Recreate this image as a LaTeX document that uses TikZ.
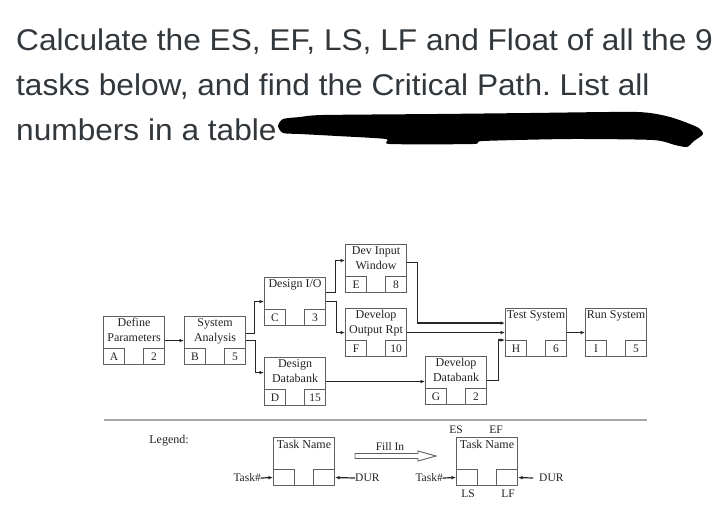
\documentclass[tikz,border=0pt]{standalone}
\usepackage{fontspec}
\setmainfont{Liberation Serif}
\newfontfamily\titlefont[FakeStretch=1.055]{Liberation Sans}
\usetikzlibrary{arrows.meta}
\definecolor{titlecol}{RGB}{50,55,60}
\definecolor{boxcol}{RGB}{95,95,95}
\definecolor{txtcol}{RGB}{35,35,35}
\frenchspacing
\newcommand{\mytask}[6]{%
  \node[taskbox] (#1) at (#2,#3) {};
  \node[tasktext] (#1t) at ([yshift=-2pt]#1.north) {#4};
  \node[cellbox, anchor=south west] (#1l) at (#1.south west) {#5};
  \node[cellbox, anchor=south east] (#1r) at (#1.south east) {#6};
}
\begin{document}
\begin{tikzpicture}[x=1pt,y=-1pt,
  title/.style={font=\titlefont\fontsize{30}{30}\selectfont, text=titlecol, anchor=base west, inner sep=0},
  taskbox/.style={draw=boxcol, line width=1.1pt, minimum width=61pt, minimum height=48pt, anchor=north west, inner sep=0},
  cellbox/.style={draw=boxcol, line width=1.1pt, minimum width=21pt, minimum height=16pt, inner sep=0, font=\fontsize{11.5}{11.5}\selectfont, text=txtcol},
  tasktext/.style={font=\fontsize{12}{15}\selectfont, text=txtcol, align=center, anchor=north, inner sep=0},
  conn/.style={draw=black!85, line width=1.2pt, -{Latex[length=4.5pt,width=3.8pt]}},
  lbl/.style={font=\fontsize{11.5}{11.5}\selectfont, text=txtcol, inner sep=0}
]
\useasboundingbox[fill=white] (0,0) rectangle (725,509);

% title
\node[title] (t1) at (16,50) {Calculate the ES, EF, LS, LF and Float of all the 9};
\node[title] (t2) at (16,95) {tasks below, and find the Critical Path. List all};
\node[title] (t3) at (16,140) {numbers in a table};
\fill[black] plot[smooth cycle, tension=0.4] coordinates {
  (278,126) (283,119) (300,117) (323,115) (437,114) (530,113) (637,112) (670,117)
  (697,127) (703,134) (694,141) (687,147) (675,145) (653,140) (570,139)
  (483,141) (473,144) (390,144) (386,139) (337,136) (300,134) (283,133)};

% tasks
\mytask{A}{103}{316}{Define\\Parameters}{A}{2}
\mytask{B}{184}{316}{System\\Analysis}{B}{5}
\mytask{C}{264}{277}{Design I/O}{C}{3}
\mytask{D}{264}{357}{Design\\Databank}{D}{15}
\mytask{E}{345}{244}{Dev Input\\Window}{E}{8}
\mytask{F}{345}{308}{Develop\\Output Rpt}{F}{10}
\mytask{G}{425}{356}{Develop\\Databank}{G}{2}
\mytask{H}{505}{308}{Test System}{H}{6}
\mytask{I}{585}{308}{Run System}{I}{5}

% connectors
\draw[conn] (A.east) -- (B.west);
\draw[conn] ([yshift=7pt]B.east) -- ++(8,0) |- (C.west);
\draw[conn] (B.east) -- ++(9,0) |- ([yshift=9pt]D.west);
\draw[conn] ([yshift=9pt]C.east) -- ++(9,0) |- ([yshift=8pt]E.west);
\draw[conn] (C.east) -- ++(10,0) |- (F.west);
\draw[conn] ([yshift=6pt]E.east) -- ++(10,0) |- ([yshift=9.5pt]H.west);
\draw[conn] (F.east) -- (F.east -| H.west);
\draw[conn] (D.east) -- (D.east -| G.west);
\draw[conn] (G.east) -- ++(11,0) |- ([yshift=-7.5pt]H.west);
\draw[conn] (H.east) -- (I.west);

% separator
\coordinate (s1) at (104,420);
\coordinate (s2) at (647,420);
\draw[black!35, line width=1.8pt] (s1) -- (s2);

% legend
\node[lbl, font=\fontsize{12}{12}\selectfont] (leg) at (169,441) {Legend:};

\node[taskbox] (L1) at (273,437) {};
\node[tasktext] (L1t) at ([yshift=-3pt]L1.north) {Task Name};
\node[cellbox, anchor=south west] (L1l) at (L1.south west) {};
\node[cellbox, anchor=south east] (L1r) at (L1.south east) {};
\node[lbl, anchor=east] (L1task) at (261,478) {Task\#};
\draw[conn] (L1task.east) -- (L1l.west);
\node[lbl, anchor=west] (L1dur) at (355,478) {DUR};
\draw[conn] (L1dur.west) -- (L1r.east);

\node[lbl] (fill) at (390,447) {Fill In};
\draw[boxcol, line width=0.9pt] (355,453.5) -- (418,453.5) -- (418,451) -- (436,456) -- (418,461) -- (418,458.5) -- (355,458.5) -- cycle;

\node[taskbox] (L2) at (456,437) {};
\node[tasktext] (L2t) at ([yshift=-3pt]L2.north) {Task Name};
\node[cellbox, anchor=south west] (L2l) at (L2.south west) {};
\node[cellbox, anchor=south east] (L2r) at (L2.south east) {};
\node[lbl] (es) at (456,430) {ES};
\node[lbl] (ef) at (496,430) {EF};
\node[lbl] (ls) at (468,494) {LS};
\node[lbl] (lf) at (508,494) {LF};
\node[lbl, anchor=east] (L2task) at (443,478) {Task\#};
\draw[conn] (L2task.east) -- (L2l.west);
\node[lbl, anchor=west] (L2dur) at (539,478) {DUR};
\draw[conn] ([xshift=-6pt]L2dur.west) -- (L2r.east);
\end{tikzpicture}
\end{document}
